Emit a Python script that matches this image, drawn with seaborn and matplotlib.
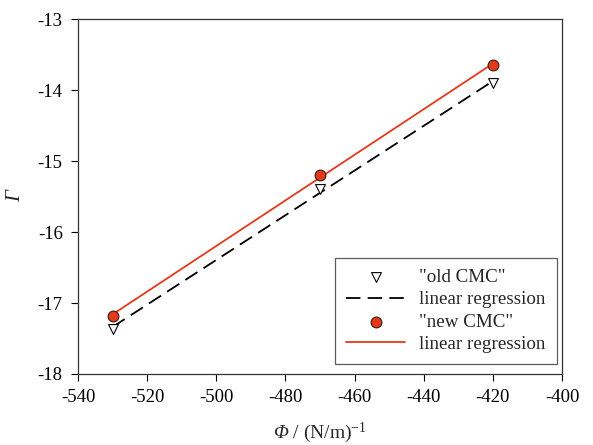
import pandas as pd
import seaborn as sns
import matplotlib.pyplot as plt
from matplotlib.offsetbox import TextArea, HPacker, AnchoredOffsetbox

# Datos
phi = [-530, -470, -420]
gamma_old = [-17.36, -15.40, -13.90]
gamma_new = [-17.18, -15.19, -13.65]

df_old = pd.DataFrame({'phi': phi, 'gamma': gamma_old})
df_new = pd.DataFrame({'phi': phi, 'gamma': gamma_new})

sns.set_style("ticks")
plt.rcParams['font.family'] = ['Liberation Serif', 'DejaVu Serif']
plt.rcParams['mathtext.fontset'] = 'custom'
plt.rcParams['mathtext.rm'] = 'Liberation Serif'
plt.rcParams['mathtext.it'] = 'Liberation Serif:italic'
plt.rcParams['axes.unicode_minus'] = False

red = '#e5391c'

fig = plt.figure(figsize=(5.93, 4.45), dpi=100)
ax = fig.add_axes([0.1315, 0.1596, 0.8162, 0.7974])

sns.scatterplot(data=df_old, x='phi', y='gamma', marker='v', s=50,
                facecolor='white', edgecolor='black', linewidth=0.8,
                label='"old CMC"', ax=ax, zorder=3)
sns.regplot(data=df_old, x='phi', y='gamma', scatter=False, ci=None,
            truncate=True, color='black',
            line_kws={'linestyle': (0, (8, 4)), 'linewidth': 1.3},
            label='linear regression', ax=ax)
sns.scatterplot(data=df_new, x='phi', y='gamma', marker='o', s=60,
                color=red, edgecolor='#3a1a10', linewidth=0.8,
                label='"new CMC"', ax=ax, zorder=4)
sns.regplot(data=df_new, x='phi', y='gamma', scatter=False, ci=None,
            truncate=True, color=red, line_kws={'linewidth': 1.3},
            label='linear regression', ax=ax)

ax.set_xlim(-540, -400)
ax.set_ylim(-18, -13)
ax.set_xticks(range(-540, -399, 20))
ax.set_yticks(range(-18, -12))
ax.tick_params(direction='out', length=5, width=0.8, labelsize=13.5,
               colors='black', pad=6)
for sp in ax.spines.values():
    sp.set_visible(True)
    sp.set_color('#333333')
    sp.set_linewidth(0.9)

# etiqueta x: Phi en cursiva + unidades
ax.set_xlabel('')
xlab = HPacker(children=[TextArea('Φ', textprops=dict(fontsize=14, fontstyle='italic')),
                         TextArea(' / (N/m)$^{-1}$', textprops=dict(fontsize=14))],
               align='baseline', pad=0, sep=0)
ax.add_artist(AnchoredOffsetbox(loc='center', child=xlab, frameon=False, pad=0,
                                borderpad=0, bbox_to_anchor=(0.5, -0.165),
                                bbox_transform=ax.transAxes))

ax.set_ylabel('Γ', fontsize=15, fontstyle='italic', va='center')
ax.yaxis.set_label_coords(-0.128, 0.5)

leg = ax.legend(loc='lower right', bbox_to_anchor=(0.99, 0.028), fontsize=13.7,
                frameon=True, fancybox=False, edgecolor='#333333',
                handlelength=3.1, handletextpad=0.75, labelspacing=0.25,
                borderpad=0.6, borderaxespad=0)
leg.get_frame().set_linewidth(0.9)

plt.savefig('out.png', dpi=100)
